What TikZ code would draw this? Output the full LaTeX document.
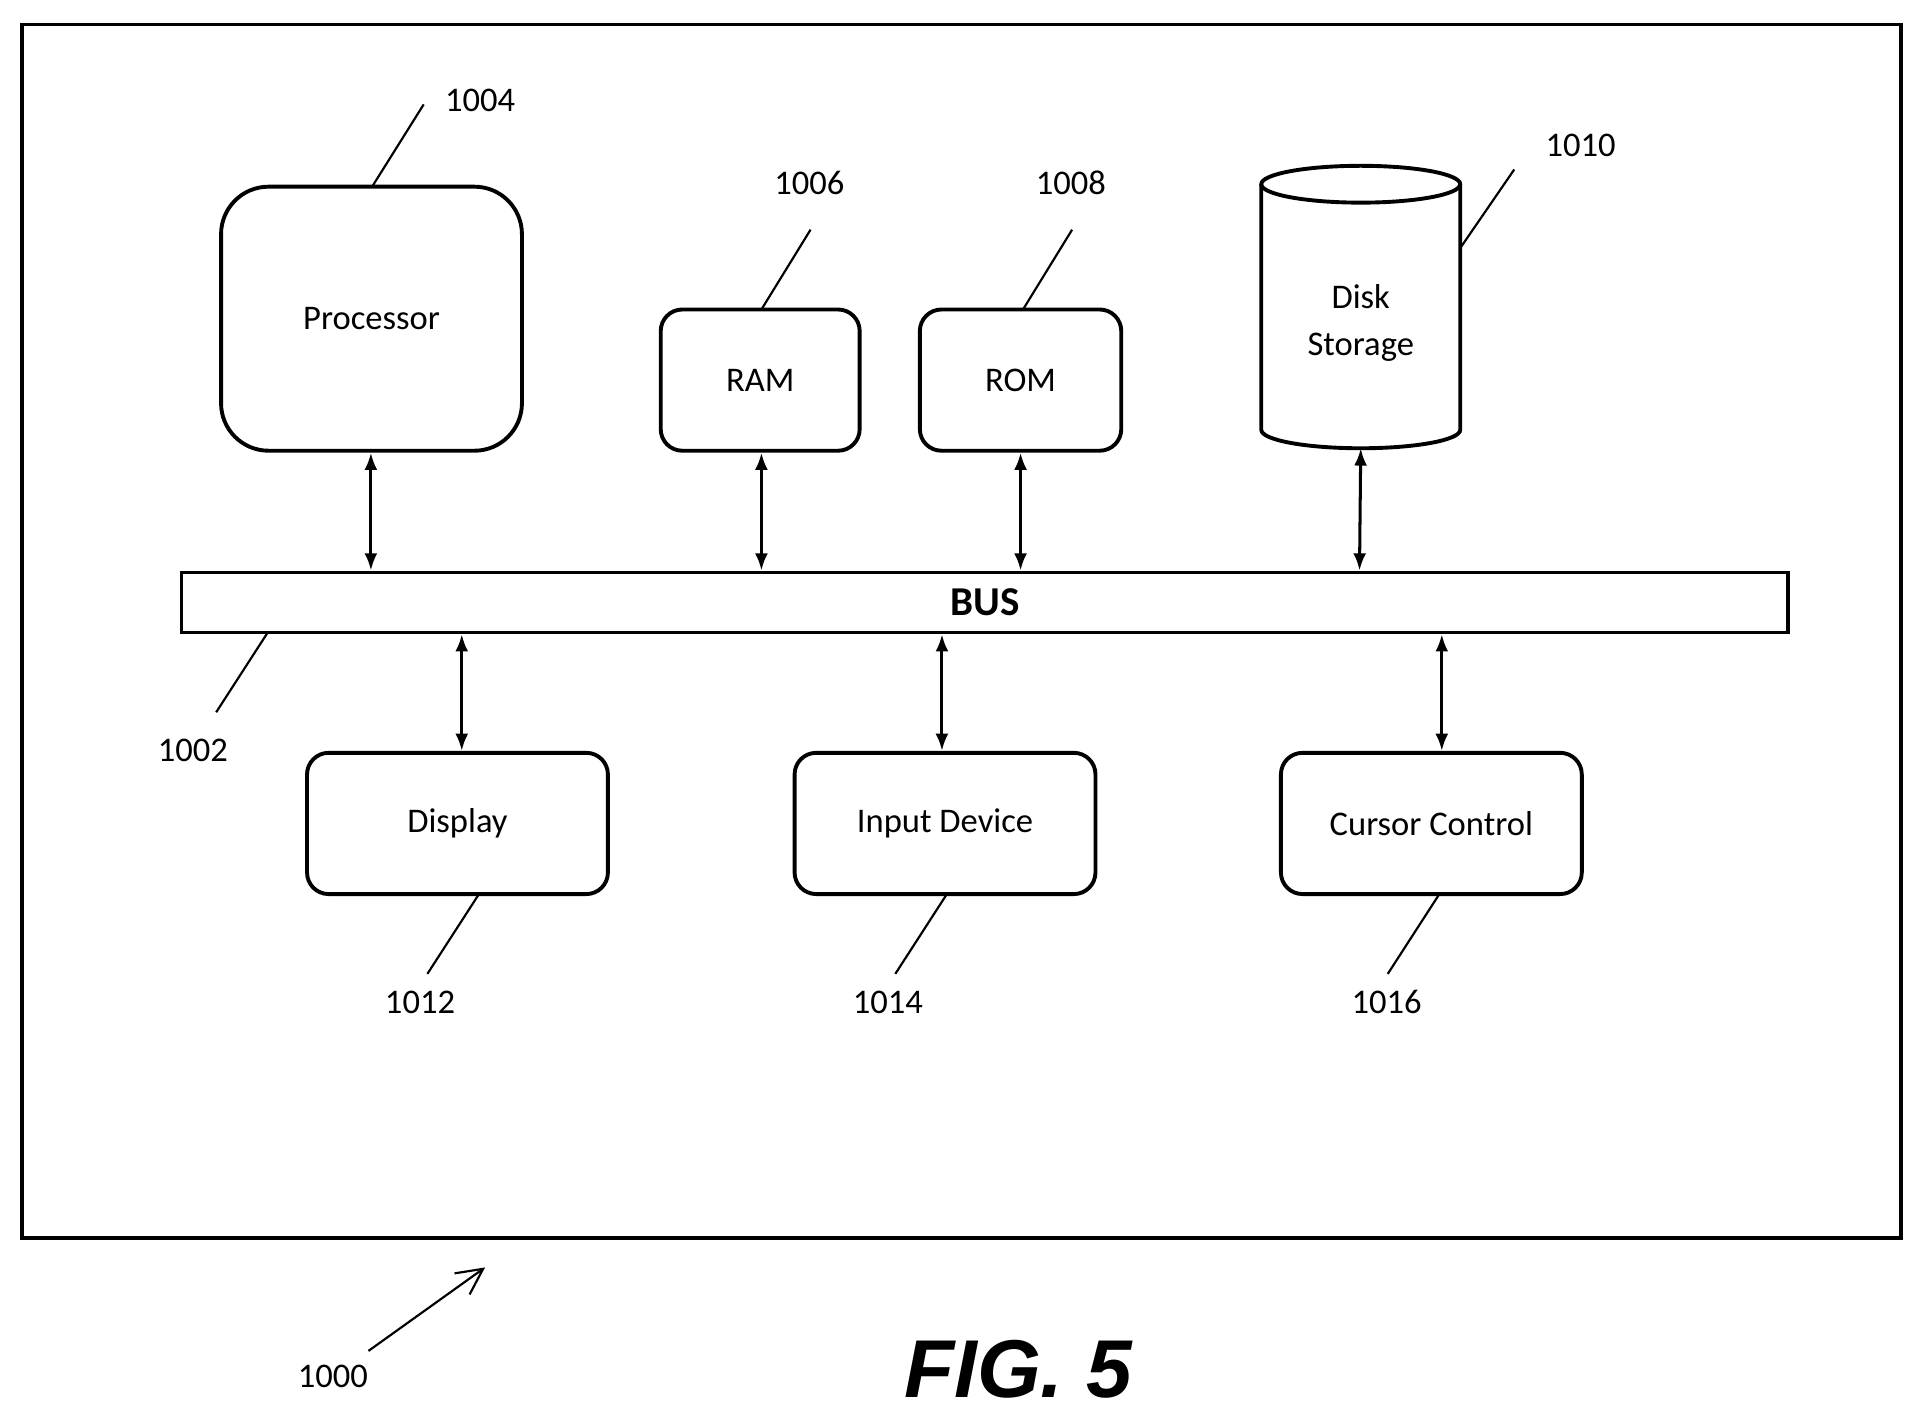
\documentclass[tikz,border=0pt]{standalone}
\usepackage{fontspec}
\setmainfont{Carlito}
\newfontfamily\figfont{Liberation Sans}
\usetikzlibrary{arrows.meta}
\begin{document}
\begin{tikzpicture}[x=0.01cm,y=-0.01cm,
  box/.style={draw,line width=0.9pt,rounded corners=5pt,align=center,font=\fontsize{8}{9.5}\selectfont,inner sep=0pt},
  num/.style={font=\fontsize{8}{9}\selectfont},
  lead/.style={line width=0.5pt},
  bi/.style={line width=0.7pt,{Latex[length=4pt,width=3pt]}-{Latex[length=4pt,width=3pt]}}]
\useasboundingbox (0,0) rectangle (1565,1154);
\node[draw,line width=0.8pt,minimum width=1530*0.01cm,minimum height=988*0.01cm,inner sep=0pt] (frame) at (783,514) {};
\node[box,rounded corners=11pt,minimum width=245*0.01cm,minimum height=215*0.01cm] (proc) at (302.5,259.5) {Processor};
\node[box,minimum width=162*0.01cm,minimum height=115*0.01cm] (ram) at (619,309.5) {RAM};
\node[box,minimum width=164*0.01cm,minimum height=115*0.01cm] (rom) at (831,309.5) {ROM};
% cylinder
\draw[line width=0.9pt] (1027,150) -- (1027,350) arc[start angle=180,end angle=0,x radius=81,y radius=15] -- (1189,150);
\draw[line width=0.9pt] (1108,150) ellipse[x radius=81,y radius=15];
\node[align=center,font=\fontsize{8}{11}\selectfont] (disk) at (1108,263) {Disk\\Storage};
\coordinate (disktop) at (1108,365);
\node[draw,line width=0.8pt,minimum width=1308*0.01cm,minimum height=49*0.01cm,inner sep=0pt,font=\fontsize{9.5}{10}\selectfont\bfseries] (bus) at (802,490.5) {BUS};
\node[box,minimum width=245*0.01cm,minimum height=115*0.01cm] (disp) at (372.5,670.5) {Display};
\node[box,minimum width=245*0.01cm,minimum height=115*0.01cm] (inp) at (769.5,670.5) {Input Device};
\node[box,minimum width=245*0.01cm,minimum height=115*0.01cm] (cur) at (1165.5,670.5) {Cursor Control};
% bus arrows
\draw[bi] (proc.south -| 302,0) -- (bus.north -| 302,0);
\draw[bi] (ram.south -| 620,0) -- (bus.north -| 620,0);
\draw[bi] (rom.south -| 831,0) -- (bus.north -| 831,0);
\draw[bi] (disktop) -- (bus.north -| 1107,0);
\draw[bi] (bus.south -| 376,0) -- (disp.north -| 376,0);
\draw[bi] (bus.south -| 767,0) -- (inp.north -| 767,0);
\draw[bi] (bus.south -| 1174,0) -- (cur.north -| 1174,0);
% leaders
\node[num] (n1004) at (391,82) {1004};
\draw[lead] (303,152) -- (345,85);
\node[num] (n1006) at (659,149) {1006};
\draw[lead] (620,252) -- (660,187);
\node[num] (n1008) at (872,149) {1008};
\draw[lead] (833,252) -- (873,187);
\node[num] (n1010) at (1287,118) {1010};
\draw[lead] (1189,202) -- (1233,138);
\node[num] (n1002) at (157,611) {1002};
\draw[lead] (218,515) -- (176,580);
\node[num] (n1012) at (342,816) {1012};
\draw[lead] (390,728) -- (348,793);
\node[num] (n1014) at (723,816) {1014};
\draw[lead] (771,728) -- (729,793);
\node[num] (n1016) at (1129,816) {1016};
\draw[lead] (1172,728) -- (1130,793);
\node[num] (n1000) at (271,1121) {1000};
\draw[lead,-{Straight Barb[length=6pt,width=6pt]}] (300,1100) -- (395,1032);
\node[font=\figfont\fontsize{19}{20}\selectfont\bfseries\itshape] (fig) at (829,1115) {FIG. 5};
\end{tikzpicture}
\end{document}
